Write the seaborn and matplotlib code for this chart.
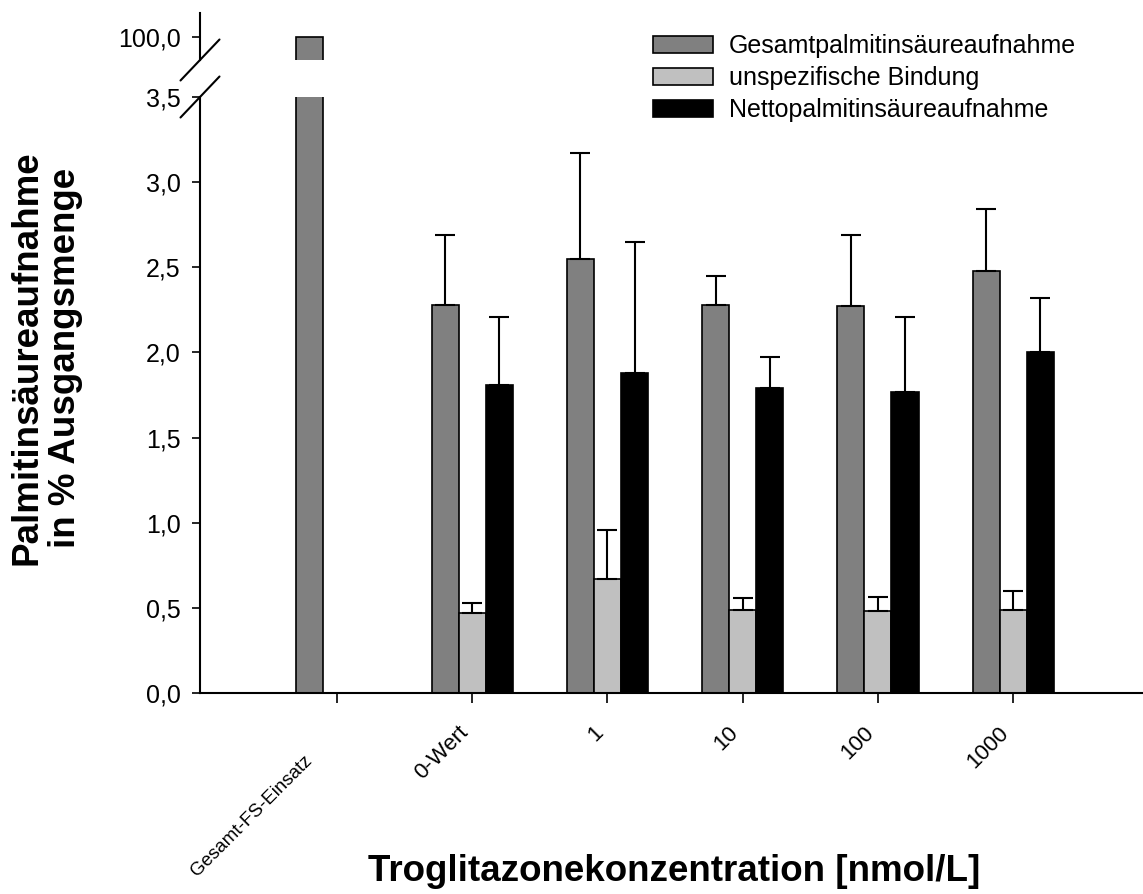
import matplotlib
matplotlib.use("Agg")
import numpy as np
import pandas as pd
import seaborn as sns
import matplotlib.pyplot as plt
import matplotlib.transforms as mtransforms
from matplotlib.ticker import FixedLocator, FuncFormatter

# Data (mean and SD, % of input)
categories = ["Gesamt-FS-Einsatz", "0-Wert", "1", "10", "100", "1000"]
series = ["Gesamtpalmitinsäureaufnahme", "unspezifische Bindung", "Nettopalmitinsäureaufnahme"]

gesamt_mean = [100.0, 2.28, 2.55, 2.28, 2.27, 2.48]
gesamt_sd = [np.nan, 0.41, 0.62, 0.17, 0.42, 0.36]
unspez_mean = [np.nan, 0.47, 0.67, 0.49, 0.48, 0.49]
unspez_sd = [np.nan, 0.06, 0.29, 0.07, 0.085, 0.11]
netto_mean = [np.nan, 1.81, 1.88, 1.79, 1.77, 2.00]
netto_sd = [np.nan, 0.40, 0.77, 0.185, 0.44, 0.32]

colors = ["#808080", "#c0c0c0", "#000000"]

means = [gesamt_mean, unspez_mean, netto_mean]
sds = [gesamt_sd, unspez_sd, netto_sd]

rows = []
for s, m_list in zip(series, means):
    for c, m in zip(categories, m_list):
        if not np.isnan(m):
            rows.append({"Konzentration": c, "Serie": s, "Wert": m})
df = pd.DataFrame(rows)
palette = dict(zip(series, colors))

sns.set_style("ticks")
plt.rcParams["font.family"] = ["Liberation Sans", "DejaVu Sans"]
for key in ["text.color", "axes.labelcolor", "xtick.color", "ytick.color", "axes.edgecolor"]:
    plt.rcParams[key] = "black"

W, H = 1143, 894
fig = plt.figure(figsize=(W / 100, H / 100), dpi=100)
# lower part 0 .. 3.5, upper part around 100
ax = fig.add_axes([200 / W, 1 - 693 / H, 943 / W, 596 / H])
ax_top = fig.add_axes([200 / W, 1 - 60 / H, 943 / W, 47 / H])

for a in (ax, ax_top):
    sns.barplot(data=df, x="Konzentration", y="Wert", hue="Serie",
                order=categories, hue_order=series, palette=palette,
                width=0.6, errorbar=None, edgecolor="black", linewidth=1.2,
                saturation=1, ax=a, legend=(a is ax))
    a.set_xlim(-1.013, 5.96)
    a.set_xlabel("")
    a.set_ylabel("")

# upper error bars only
for cont, sd_list in zip(list(ax.containers), sds):
    for bar in cont:
        xc = bar.get_x() + bar.get_width() / 2
        i = int(round(xc))
        sd = sd_list[i]
        if np.isnan(sd):
            continue
        ax.errorbar(xc, bar.get_height(), yerr=[[0], [sd]], fmt="none",
                    ecolor="black", elinewidth=1.5, capsize=7.5, capthick=1.5)

comma = FuncFormatter(lambda v, p: f"{v:.1f}".replace(".", ","))

# lower axes
ax.set_ylim(0, 3.5)
ax.yaxis.set_major_locator(FixedLocator(np.arange(0, 3.51, 0.5)))
ax.yaxis.set_major_formatter(comma)
for sp in ["top", "right"]:
    ax.spines[sp].set_visible(False)
for sp in ["left", "bottom"]:
    ax.spines[sp].set_linewidth(1.5)
ax.tick_params(axis="y", length=6, width=1.2, labelsize=18, pad=8)
ax.tick_params(axis="x", length=7, width=1.2, labelsize=16, pad=14)
ax.set_xticks(range(len(categories)))
ax.set_xticklabels(categories, rotation=45, ha="right")
first = ax.get_xticklabels()[0]
first.set_fontsize(13.5)
first.set_transform(first.get_transform() +
                    mtransforms.ScaledTranslation(-0.22, -0.30, fig.dpi_scale_trans))

# upper axes
ax_top.set_ylim(99.777, 100.223)
ax_top.yaxis.set_major_locator(FixedLocator([100.0]))
ax_top.yaxis.set_major_formatter(comma)
ax_top.patch.set_alpha(0)
for sp in ["top", "right", "bottom"]:
    ax_top.spines[sp].set_visible(False)
ax_top.spines["left"].set_linewidth(1.5)
ax_top.tick_params(axis="y", length=6, width=1.2, labelsize=18, pad=8)
ax_top.tick_params(axis="x", bottom=False, labelbottom=False)

# break marks
dx = 19.5 / 943
ax.plot([-dx, dx], [1 - 20.5 / 596, 1 + 20.5 / 596], transform=ax.transAxes,
        color="black", lw=1.5, clip_on=False)
ax_top.plot([-dx, dx], [-20.5 / 47, 20.5 / 47], transform=ax_top.transAxes,
            color="black", lw=1.5, clip_on=False)

# labels
ax.set_ylabel("Palmitinsäureaufnahme\nin % Ausgangsmenge", fontsize=26.5,
              fontweight="bold", linespacing=1.1)
ax.yaxis.set_label_coords(-0.163, 0.562)
ax.yaxis.label.set_va("center")
ax.yaxis.label.set_ha("center")
ax.set_xlabel("Troglitazonekonzentration [nmol/L]", fontsize=26.5, fontweight="bold")
ax.xaxis.set_label_coords(0.503, -0.300)
ax.xaxis.label.set_va("center")

# legend
handles, labels = ax.get_legend_handles_labels()
if ax.get_legend() is not None:
    ax.get_legend().remove()
leg = ax.legend(handles, labels, loc="upper left",
                bbox_to_anchor=(653 / W, 1 - 34 / H), bbox_transform=fig.transFigure,
                frameon=False, fontsize=18, handlelength=2.4, handleheight=0.68,
                handletextpad=0.64, labelspacing=0.33, borderpad=0, borderaxespad=0)
for h in leg.legend_handles:
    h.set_edgecolor("black")
    h.set_linewidth(1.2)

fig.savefig("out.png", dpi=100)
